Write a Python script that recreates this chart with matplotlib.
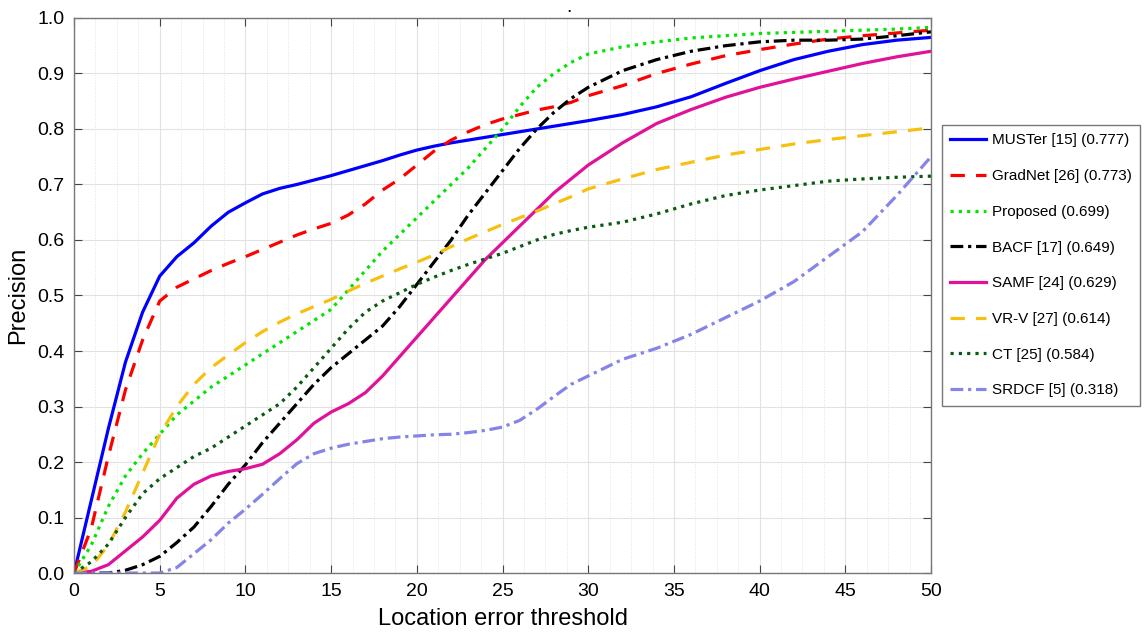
import numpy as np
import matplotlib
matplotlib.use('Agg')
import matplotlib.pyplot as plt
from matplotlib.ticker import MultipleLocator

plt.rcParams['font.family'] = ['Liberation Sans', 'DejaVu Sans']

thr = [0, 1, 2, 3, 4, 5, 6, 7, 8, 9, 10, 11, 12, 13, 14, 15, 16, 17, 18, 19,
       20, 21, 22, 23, 24, 25, 26, 27, 28, 29, 30, 32, 34, 36, 38, 40, 42, 44,
       46, 48, 50]

muster = [0, 0.13, 0.26, 0.38, 0.47, 0.535, 0.57, 0.595, 0.625, 0.65, 0.667,
          0.683, 0.693, 0.70, 0.708, 0.716, 0.725, 0.734, 0.743, 0.753, 0.762,
          0.769, 0.775, 0.78, 0.785, 0.79, 0.795, 0.80, 0.805, 0.81, 0.815,
          0.826, 0.84, 0.858, 0.882, 0.905, 0.925, 0.94, 0.952, 0.96, 0.965]
gradnet = [0, 0.08, 0.21, 0.33, 0.42, 0.49, 0.515, 0.53, 0.545, 0.558, 0.57,
           0.583, 0.596, 0.609, 0.62, 0.63, 0.645, 0.665, 0.69, 0.71, 0.735,
           0.76, 0.78, 0.795, 0.808, 0.818, 0.826, 0.834, 0.84, 0.848, 0.86,
           0.878, 0.90, 0.917, 0.932, 0.943, 0.953, 0.962, 0.968, 0.973, 0.978]
proposed = [0, 0.05, 0.12, 0.175, 0.215, 0.25, 0.285, 0.31, 0.335, 0.355,
            0.375, 0.395, 0.415, 0.435, 0.455, 0.475, 0.51, 0.545, 0.58, 0.61,
            0.64, 0.67, 0.70, 0.73, 0.765, 0.80, 0.84, 0.875, 0.90, 0.92,
            0.935, 0.948, 0.957, 0.964, 0.968, 0.972, 0.974, 0.976, 0.978,
            0.98, 0.983]
bacf = [0, 0, 0, 0.005, 0.015, 0.03, 0.055, 0.083, 0.12, 0.16, 0.195, 0.235,
        0.27, 0.305, 0.34, 0.37, 0.395, 0.42, 0.445, 0.48, 0.52, 0.56, 0.60,
        0.645, 0.685, 0.725, 0.765, 0.80, 0.83, 0.855, 0.875, 0.905, 0.925,
        0.94, 0.95, 0.957, 0.96, 0.96, 0.962, 0.968, 0.975]
samf = [0, 0.003, 0.015, 0.04, 0.065, 0.095, 0.135, 0.16, 0.175, 0.183, 0.188,
        0.196, 0.215, 0.24, 0.27, 0.29, 0.305, 0.325, 0.355, 0.39, 0.425,
        0.46, 0.495, 0.53, 0.565, 0.595, 0.625, 0.655, 0.685, 0.71, 0.735,
        0.775, 0.81, 0.835, 0.857, 0.875, 0.89, 0.904, 0.918, 0.93, 0.94]
vrv = [0, 0.012, 0.05, 0.11, 0.18, 0.25, 0.30, 0.34, 0.37, 0.393, 0.415,
       0.435, 0.452, 0.467, 0.48, 0.493, 0.508, 0.522, 0.535, 0.548, 0.56,
       0.573, 0.588, 0.602, 0.615, 0.628, 0.64, 0.652, 0.665, 0.678, 0.692,
       0.71, 0.727, 0.74, 0.753, 0.763, 0.773, 0.781, 0.788, 0.795, 0.802]
ct = [0, 0.02, 0.052, 0.10, 0.143, 0.17, 0.19, 0.21, 0.225, 0.245, 0.265,
      0.285, 0.305, 0.335, 0.37, 0.405, 0.44, 0.47, 0.49, 0.505, 0.52, 0.533,
      0.545, 0.556, 0.566, 0.576, 0.588, 0.60, 0.61, 0.617, 0.623, 0.632,
      0.647, 0.665, 0.68, 0.69, 0.698, 0.706, 0.71, 0.713, 0.715]
srdcf = [0, 0, 0, 0, 0, 0, 0.01, 0.035, 0.06, 0.09, 0.115, 0.142, 0.17, 0.197,
         0.215, 0.225, 0.232, 0.237, 0.242, 0.245, 0.247, 0.249, 0.25, 0.253,
         0.257, 0.263, 0.275, 0.295, 0.318, 0.34, 0.355, 0.385, 0.405, 0.43,
         0.46, 0.49, 0.525, 0.57, 0.615, 0.68, 0.75]

labels = ['MUSTer [15] (0.777)', 'GradNet [26] (0.773)', 'Proposed (0.699)',
          'BACF [17] (0.649)', 'SAMF [24] (0.629)', 'VR-V [27] (0.614)',
          'CT [25] (0.584)', 'SRDCF [5] (0.318)']

fig = plt.figure(figsize=(11.48, 6.35), dpi=100)
ax = fig.add_axes([0.0645, 0.0976, 0.7465, 0.8741])

lw = 2.3
ax.plot(thr, muster, color='#0000ff', lw=lw, label=labels[0])
ax.plot(thr, gradnet, color='#ff0000', lw=lw, dashes=(4.5, 3.5), label=labels[1])
ax.plot(thr, proposed, color='#00e600', lw=lw, dashes=(1, 1.6), label=labels[2])
ax.plot(thr, bacf, color='black', lw=lw, dashes=(4, 1.5, 1, 1.5), label=labels[3])
ax.plot(thr, samf, color='#e0129a', lw=lw, label=labels[4])
ax.plot(thr, vrv, color='#f7c010', lw=lw, dashes=(4.5, 3.5), label=labels[5])
ax.plot(thr, ct, color='#0b5a12', lw=lw, dashes=(1, 1.6), label=labels[6])
ax.plot(thr, srdcf, color='#8585e8', lw=lw, dashes=(4, 1.5, 1, 1.5), label=labels[7])

ax.set_xlim(0, 50)
ax.set_ylim(0, 1)
ax.xaxis.set_major_locator(MultipleLocator(5))
ax.xaxis.set_minor_locator(MultipleLocator(1.25))
ax.yaxis.set_major_locator(MultipleLocator(0.1))
ax.yaxis.set_major_formatter(plt.FormatStrFormatter('%.1f'))
ax.grid(which='major', color='#e2e2e2', lw=0.8)
ax.grid(which='minor', axis='x', color='#e2e2e2', lw=0.7, ls=':')
ax.set_axisbelow(True)
ax.tick_params(which='major', direction='in', length=6, top=True, right=True,
               labelsize=14, color='#444444', pad=7)
ax.tick_params(which='minor', length=0)
for s in ax.spines.values():
    s.set_color('#777777')
    s.set_linewidth(1.0)

ax.set_xlabel('Location error threshold', fontsize=17, labelpad=6)
ax.set_ylabel('Precision', fontsize=17, labelpad=6)

leg = ax.legend(loc='upper left', bbox_to_anchor=(0.8205, 0.803), bbox_transform=fig.transFigure,
                fontsize=11, handlelength=2.35, labelspacing=1.42, borderpad=0.55,
                handletextpad=0.35, fancybox=False, framealpha=1, borderaxespad=0)
leg.get_frame().set_edgecolor('#777777')
leg.get_frame().set_linewidth(1.0)

# leftover mark above the plot (tail of a cropped title)
fig.text(0.496, 0.975, '.', fontsize=14, ha='center', va='bottom')

fig.savefig('out.png', dpi=100, facecolor='white')
